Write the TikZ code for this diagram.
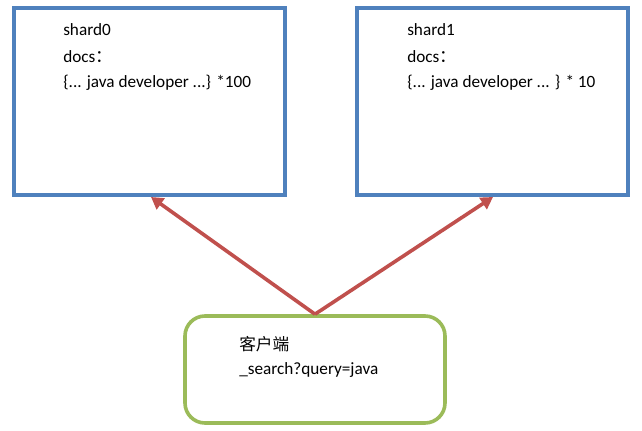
\documentclass[tikz,border=0pt]{standalone}
\usepackage{fontspec}
\setmainfont{Carlito}
\newfontfamily\cjk{Noto Sans CJK SC}
\usetikzlibrary{arrows.meta}
\definecolor{boxblue}{HTML}{4F81BD}
\definecolor{boxgreen}{HTML}{9BBB59}
\definecolor{arrred}{HTML}{C0504D}
\tikzset{
  shardbox/.style={draw=boxblue, line width=3pt, minimum width=271*0.75pt, minimum height=187*0.75pt, inner sep=0pt},
  clientbox/.style={draw=boxgreen, line width=2.7pt, rounded corners=15pt, minimum width=260*0.75pt, minimum height=107*0.75pt, inner sep=0pt},
  txt/.style={anchor=base west, inner sep=0pt, font=\fontsize{12.9pt}{15pt}\selectfont},
  reqarrow/.style={draw=arrred, line width=2.7pt, -{Triangle[length=9pt, width=10pt]}}
}
\begin{document}
\begin{tikzpicture}[x=0.75pt, y=-0.75pt]
\useasboundingbox (0,0) rectangle (642,431);
\node[shardbox] (s0) at (149.5,101.5) {};
\node[shardbox] (s1) at (492,101.5) {};
\node[clientbox] (c) at (315,369.5) {};

\node[txt] (s0a) at (63,36) {shard0};
\node[txt] (s0b) at (63,63) {docs{\cjk ：}};
\node[txt] (s0c) at (63,88) {\{... java developer ...\} *100};

\node[txt] (s1a) at (407,36) {shard1};
\node[txt] (s1b) at (407,63) {docs{\cjk ：}};
\node[txt] (s1c) at (407,88) {\{... java developer ... \} * 10};

\node[txt] (ca) at (239,350) {\cjk\fontsize{12.5pt}{15pt}\selectfont 客户端};
\node[txt] (cb) at (239,374) {\_search?query=java};

\coordinate (t0) at (151,197);
\coordinate (t1) at (493,197);
\draw[reqarrow] (c.north) -- (t0);
\draw[reqarrow] (c.north) -- (t1);
\end{tikzpicture}
\end{document}
